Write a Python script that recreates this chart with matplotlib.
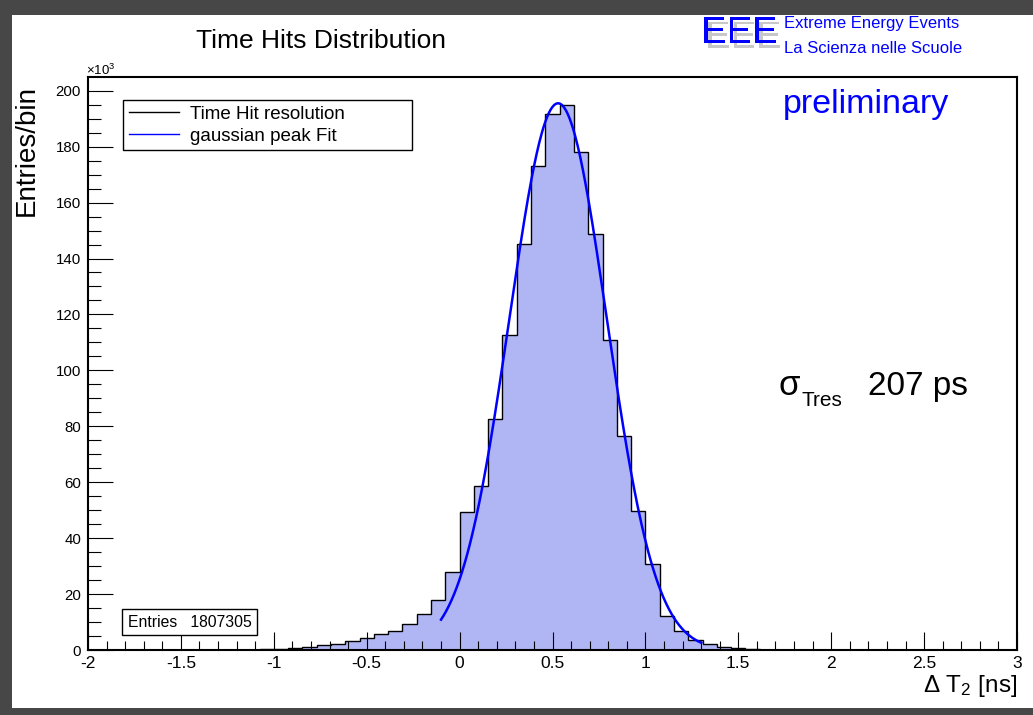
import numpy as np
import matplotlib.pyplot as plt
import matplotlib.patheffects as pe
from matplotlib.lines import Line2D
from matplotlib.patches import Rectangle
from matplotlib.ticker import MultipleLocator, FuncFormatter

plt.rcParams['font.family'] = ['Liberation Sans', 'DejaVu Sans']
plt.rcParams['mathtext.fontset'] = 'custom'
plt.rcParams['mathtext.rm'] = 'Liberation Sans'
plt.rcParams['mathtext.it'] = 'Liberation Sans:italic'
plt.rcParams['mathtext.bf'] = 'Liberation Sans:bold'
plt.rcParams['axes.unicode_minus'] = False

W, H = 1033, 715

# histogram: 65 bins between -2 and 3 ns, entries per bin in units of 10^3
bin_edges = np.linspace(-2, 3, 66)
counts = [0.01, 0.01, 0.01, 0.02, 0.02, 0.03, 0.04, 0.05, 0.06, 0.08,
          0.10, 0.15, 0.22, 0.35, 0.6, 1.2, 1.8, 2.3, 3.2, 4.3,
          5.6, 6.9, 9.2, 13.0, 17.9, 28.0, 49.2, 58.6, 82.7, 112.5,
          145.2, 173.0, 191.5, 194.9, 178.0, 148.6, 111.0, 76.4, 49.8, 30.6,
          12.0, 6.9, 3.6, 2.3, 1.2, 0.6, 0.3, 0.15, 0.08, 0.04,
          0.02, 0.02, 0.01, 0.01, 0.01, 0.0, 0.0, 0.0, 0.0, 0.0,
          0.0, 0.0, 0.0, 0.0, 0.0]
n_entries = 1807305

# gaussian peak fit
fit_amp = 195.5
fit_mean = 0.53
fit_sigma = 0.262
fit_range = (-0.1, 1.3)

x_ticks = [-2, -1.5, -1, -0.5, 0, 0.5, 1, 1.5, 2, 2.5, 3]
y_ticks = [0, 20, 40, 60, 80, 100, 120, 140, 160, 180, 200]

fill_col = '#b0b5f4'
blue = '#0000ff'

fig = plt.figure(figsize=(W / 100, H / 100), dpi=100, facecolor='#474747')
fig.add_artist(Rectangle((12 / W, 1 - 708 / H), 1 - 12 / W, (708 - 15) / H,
                         transform=fig.transFigure, fc='white', ec='none', zorder=-10))

ax = fig.add_axes([88 / W, 1 - 650 / H, (1017 - 88) / W, (650 - 77.3) / H])

ax.stairs(counts, bin_edges, fill=True, color=fill_col, lw=0)
ax.stairs(counts, bin_edges, color='black', lw=1.0)

xf = np.linspace(fit_range[0], fit_range[1], 300)
yf = fit_amp * np.exp(-0.5 * ((xf - fit_mean) / fit_sigma) ** 2)
ax.plot(xf, yf, color=blue, lw=1.8)

ax.set_xlim(-2, 3)
ax.set_ylim(0, 204.8)
ax.set_xticks(x_ticks)
ax.set_yticks(y_ticks)
ax.xaxis.set_minor_locator(MultipleLocator(0.1))
ax.yaxis.set_minor_locator(MultipleLocator(5))
ax.xaxis.set_major_formatter(FuncFormatter(lambda v, p: '%g' % v))
ax.tick_params(axis='x', which='major', direction='in', length=13, width=0.8, labelsize=12.5, pad=4)
ax.tick_params(axis='x', which='minor', direction='in', length=6.5, width=0.8)
ax.tick_params(axis='y', which='major', direction='in', length=18, width=0.8, labelsize=10.8, pad=5)
ax.tick_params(axis='y', which='minor', direction='in', length=9.4, width=0.8)
for s in ax.spines.values():
    s.set_linewidth(1.5)

handles = [Line2D([], [], color='black', lw=1), Line2D([], [], color=blue, lw=1)]
ax.legend(handles, ['Time Hit resolution', 'gaussian peak Fit'], loc='upper left',
          bbox_to_anchor=(0.0377, 0.9604, 0.3106, 0), mode='expand', borderaxespad=0,
          fontsize=13.5, fancybox=False, edgecolor='black', framealpha=1,
          handlelength=2.7, handletextpad=0.55, borderpad=0.3, labelspacing=0.25)

ax.text(0.043, 0.041, 'Entries   %d' % n_entries, transform=ax.transAxes, fontsize=11.3,
        va='baseline', ha='left',
        bbox=dict(boxstyle='square,pad=0.35', fc='white', ec='black', lw=1))


def ftext(px, py, s, **kw):
    fig.text(px / W, 1 - py / H, s, **kw)


ftext(321, 47.7, 'Time Hits Distribution', ha='center', va='baseline', fontsize=19)
ftext(86, 75, r'$\times10^{3}$', ha='left', va='baseline', fontsize=9.5)
ftext(27, 85, 'Entries/bin', ha='center', va='top', rotation=90, fontsize=20)
ftext(1017, 692, r'$\Delta$ T$_{2}$ [ns]', ha='right', va='baseline', fontsize=17.5)
ftext(783, 113, 'preliminary', ha='left', va='baseline', fontsize=24.5, color=blue)
ftext(778, 395, 'σ', ha='left', va='baseline', fontsize=25)
ftext(801, 406, 'Tres', ha='left', va='baseline', fontsize=15)
ftext(868, 395, '207 ps', ha='left', va='baseline', fontsize=24)

# EEE logo, gray shadow drawn as a path effect
ftext(701, 43, 'EEE', ha='left', va='baseline', fontsize=27.5, color=blue,
      path_effects=[pe.SimplePatchShadow(offset=(3, -3.5), shadow_rgbFace='#c8c8c8', alpha=1),
                    pe.Normal()])
ftext(784, 28, 'Extreme Energy Events', ha='left', va='baseline', fontsize=12, color=blue)
ftext(784, 53, 'La Scienza nelle Scuole', ha='left', va='baseline', fontsize=12, color=blue)

fig.savefig('out.png', dpi=100, facecolor=fig.get_facecolor())
